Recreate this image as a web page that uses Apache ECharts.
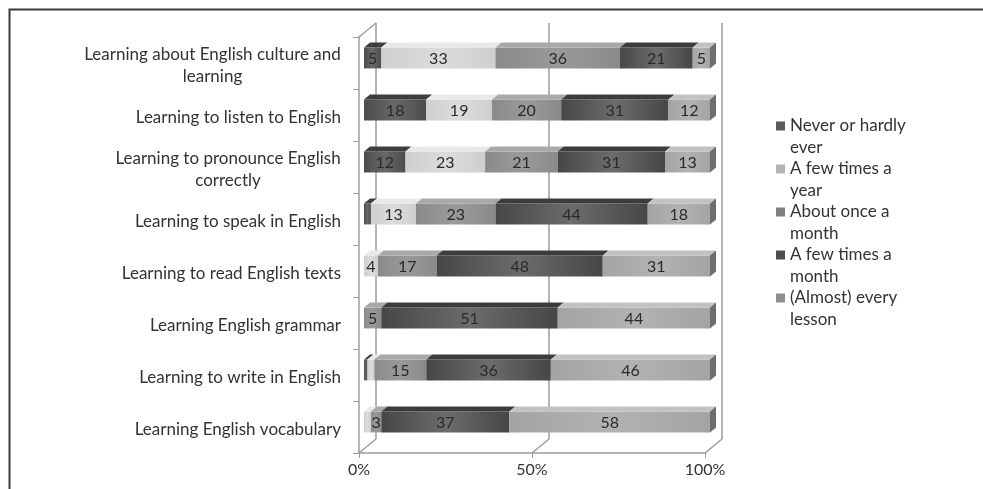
<!DOCTYPE html>
<html>
<head>
<meta charset="utf-8">
<script src="https://cdn.jsdelivr.net/npm/echarts@6/dist/echarts.min.js"></script>
<style>
  html, body { margin: 0; padding: 0; background: #fff; }
  #chart { width: 983px; height: 489px; }
</style>
</head>
<body>
<div id="chart"></div>
<script>
const categories = [
  "Learning about English culture and\nlearning",
  "Learning to listen to English",
  "Learning to pronounce English\ncorrectly",
  "Learning to speak in English",
  "Learning to read English texts",
  "Learning English grammar",
  "Learning to write in English",
  "Learning English vocabulary"
];

const responses = [
  "Never or hardly\never",
  "A few times a\nyear",
  "About once a\nmonth",
  "A few times a\nmonth",
  "(Almost) every\nlesson"
];

// percent per category, same order as categories
const never = [5, 18, 12, 2, 0, 0, 1, 0];
const fewYear = [33, 19, 23, 13, 4, 0, 2, 2];
const onceMonth = [36, 20, 21, 23, 17, 5, 15, 3];
const fewMonth = [21, 31, 31, 44, 48, 51, 36, 37];
const everyLesson = [5, 12, 13, 18, 31, 44, 46, 58];

const xTicks = [0, 50, 100];

const FONT = "Lato";
const WALL_X = 17, WALL_Y = 14;   // depth of the back wall
const BAR_DX = 6, BAR_DY = 5;     // depth of a bar
const SHIFT = 5;                  // bars sit a little behind the front plane

// face colours: [edge, centre, top, side]
const palette = [
  ["#4c4c4c", "#686868", "#3e3e3e", "#3a3a3a"],
  ["#cfcfcf", "#dcdcdc", "#e9e9e9", "#bdbdbd"],
  ["#8a8a8a", "#9a9a9a", "#a9a9a9", "#777777"],
  ["#464646", "#6c6c6c", "#3c3c3c", "#363636"],
  ["#a4a4a4", "#b2b2b2", "#c2c2c2", "#6e6e6e"]
];
const swatches = ["#5a5a5a", "#b3b3b3", "#808080", "#4e4e4e", "#8f8f8f"];

const valueLists = [never, fewYear, onceMonth, fewMonth, everyLesson];

function faceGradient(c) {
  return {
    type: "linear", x: 0, y: 0, x2: 1, y2: 0,
    colorStops: [
      { offset: 0, color: c[0] },
      { offset: 0.5, color: c[1] },
      { offset: 1, color: c[0] }
    ]
  };
}

function buildSegments(k) {
  return categories.map((_, i) => {
    let start = 0;
    for (let j = 0; j < k; j++) start += valueLists[j][i];
    const v = valueLists[k][i];
    return [start, start + v, i, v];
  });
}

function barRenderer(k) {
  const c = palette[k];
  const withSide = k === valueLists.length - 1;
  return function (params, api) {
    const v = api.value(3);
    if (!v) return null;
    const a = api.coord([api.value(0), api.value(2)]);
    const b = api.coord([api.value(1), api.value(2)]);
    const h = api.size([0, 1])[1] * 0.4;
    const x0 = a[0] + SHIFT, x1 = b[0] + SHIFT;
    const y0 = a[1] - SHIFT - h / 2, y1 = y0 + h;
    const children = [
      {
        type: "rect",
        shape: { x: x0, y: y0, width: x1 - x0, height: h },
        style: { fill: faceGradient(c) }
      },
      {
        type: "polygon",
        shape: { points: [[x0, y0], [x1, y0], [x1 + BAR_DX, y0 - BAR_DY], [x0 + BAR_DX, y0 - BAR_DY]] },
        style: { fill: c[2] }
      }
    ];
    if (withSide) {
      children.push({
        type: "polygon",
        shape: { points: [[x1, y0], [x1, y1], [x1 + BAR_DX, y1 - BAR_DY], [x1 + BAR_DX, y0 - BAR_DY]] },
        style: { fill: c[3] }
      });
    }
    if (v >= 3) {
      children.push({
        type: "text",
        x: (x0 + x1) / 2,
        y: (y0 + y1) / 2 + 1,
        style: {
          text: String(v),
          fill: "#2a2a2a",
          font: "16px " + FONT,
          align: "center",
          verticalAlign: "middle",
          textAlign: "center",
          textVerticalAlign: "middle"
        }
      });
    }
    return { type: "group", children };
  };
}

function frameRenderer(params, api) {
  const cs = params.coordSys;
  const x = api.coord([api.value(0), 0])[0];
  const top = cs.y, bot = cs.y + cs.height;
  const style = { stroke: "#9c9c9c", lineWidth: 1.5 };
  const line = (x1, y1, x2, y2) => ({ type: "line", shape: { x1, y1, x2, y2 }, style });
  const lines = [
    line(x + WALL_X, top - WALL_Y, x + WALL_X, bot - WALL_Y),
    line(x, bot, x + WALL_X, bot - WALL_Y)
  ];
  if (api.value(0) === 0) lines.push(line(x, top, x + WALL_X, top - WALL_Y));
  return { type: "group", children: lines };
}

// centre the lines of the two-line labels, as the original does
const LABEL_SIZE = 17;
const measure = document.createElement("canvas").getContext("2d");
measure.font = LABEL_SIZE + "px " + FONT;
const rich = {};
categories.forEach((cat, i) => {
  if (!cat.includes("\n")) return;
  const w = Math.max(...cat.split("\n").map((l) => measure.measureText(l).width));
  rich["c" + i] = { width: Math.ceil(w), align: "center", fontSize: LABEL_SIZE, fontFamily: FONT, color: "#333", lineHeight: 22 };
});

const chart = echarts.init(document.getElementById("chart"));

const series = [
  {
    type: "custom",
    name: "frame",
    silent: true,
    z: 1,
    renderItem: frameRenderer,
    encode: { x: 0, y: 1 },
    data: xTicks.map((t) => [t, 0])
  }
].concat(responses.map((name, k) => ({
  type: "custom",
  name,
  z: 3,
  renderItem: barRenderer(k),
  encode: { x: [0, 1], y: 2 },
  itemStyle: { color: swatches[k] },
  data: buildSegments(k)
})));

chart.setOption({
  animation: false,
  backgroundColor: "#fff",
  graphic: [
    {
      type: "polyline",
      silent: true,
      shape: { points: [[9.5, 489], [9.5, 9.5], [983, 9.5]] },
      style: { stroke: "#3a3a3a", lineWidth: 2, fill: null }
    }
  ],
  grid: { left: 359, right: 278, top: 37, bottom: 36 },
  legend: {
    data: responses,
    orient: "vertical",
    left: 776,
    top: 93,
    padding: 0,
    itemWidth: 9,
    itemHeight: 9,
    itemGap: -23,
    icon: "rect",
    selectedMode: false,
    // empty first line keeps the swatch level with the first text line
    formatter: (name) => "\n" + name,
    textStyle: {
      fontFamily: FONT,
      fontSize: 17,
      color: "#333",
      lineHeight: 22
    }
  },
  xAxis: {
    type: "value",
    min: 0,
    max: 100,
    interval: 50,
    axisLine: { show: true, lineStyle: { color: "#9c9c9c", width: 1.5 } },
    axisTick: { show: true, length: 5, lineStyle: { color: "#9c9c9c" } },
    splitLine: { show: false },
    axisLabel: { formatter: "{value}%", color: "#333", fontFamily: FONT, fontSize: 16, margin: 9 }
  },
  yAxis: {
    type: "category",
    inverse: true,
    data: categories,
    axisLine: { show: true, lineStyle: { color: "#9c9c9c", width: 1.5 } },
    axisTick: { show: true, length: 6, lineStyle: { color: "#9c9c9c" } },
    axisLabel: {
      color: "#333",
      fontFamily: FONT,
      fontSize: LABEL_SIZE,
      lineHeight: 22,
      margin: 18,
      padding: [6, 0, 0, 0],
      formatter: (value, index) =>
        value.includes("\n") ? value.split("\n").map((l) => `{c${index}|${l}}`).join("\n") : value,
      rich
    }
  },
  series
});
</script>
</body>
</html>
